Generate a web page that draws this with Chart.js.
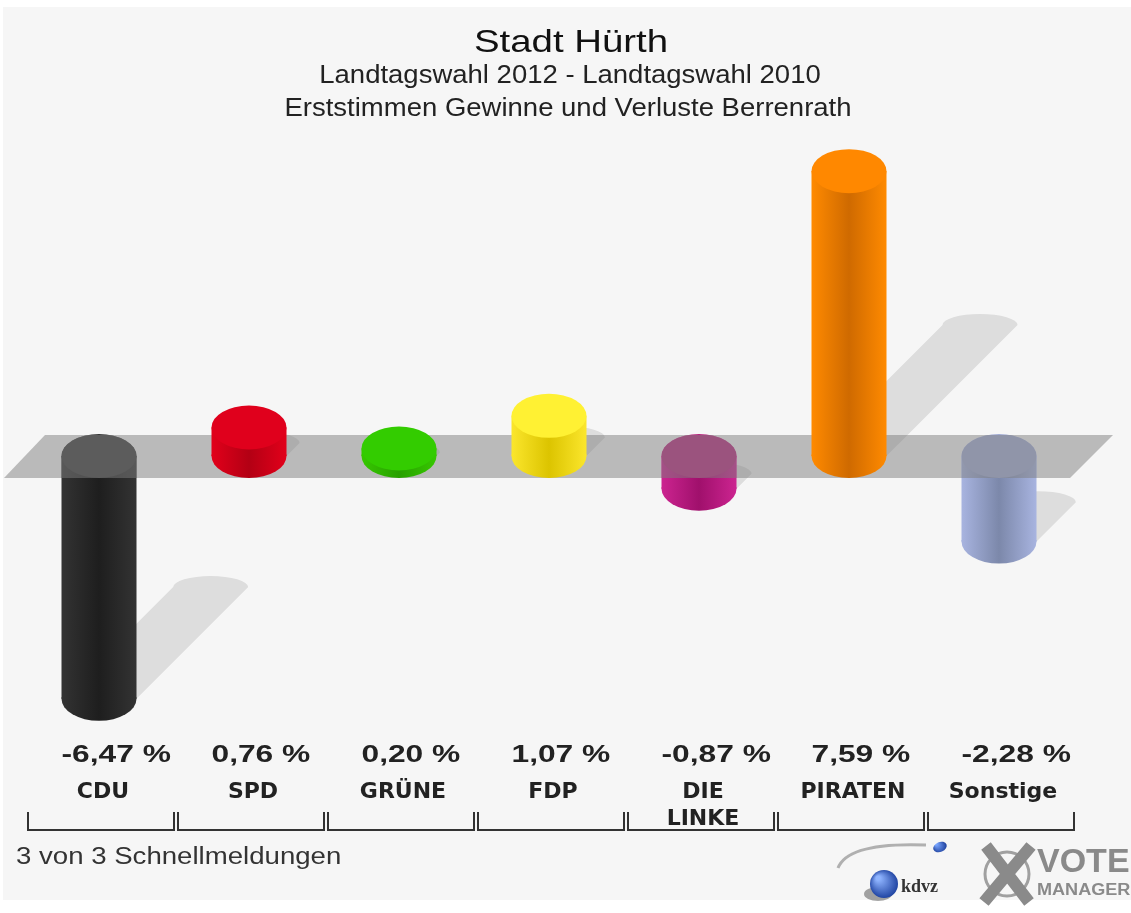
<!DOCTYPE html>
<html lang="de">
<head>
<meta charset="utf-8">
<title>Stadt Hürth – Landtagswahl 2012</title>
<script src="https://cdn.jsdelivr.net/npm/chart.js@4.4.1/dist/chart.umd.min.js"></script>
<style>
  html, body { margin: 0; padding: 0; background: #fff; }
  canvas { display: block; }
</style>
</head>
<body>
<canvas id="chart" width="1131" height="913"></canvas>
<script>
// Erststimmen Gewinne und Verluste (Prozentpunkte)
const parties = ['CDU', 'SPD', 'GRÜNE', 'FDP', ['DIE', 'LINKE'], 'PIRATEN', 'Sonstige'];
const changes = [-6.47, 0.76, 0.20, 1.07, -0.87, 7.59, -2.28];
const sideColors = ['#333333', '#e2001a', '#36c800', '#fbe62c', '#cc2490', '#ff8a00', '#a8b4e0'];
const darkColors = ['#1e1e1e', '#b30014', '#28a000', '#dcc400', '#a0106c', '#cf6a00', '#7c88aa'];
const topColors = ['#3a3a3a', '#e0001c', '#33cc00', '#fff133', '#b8287f', '#ff8800', '#a2acd4'];
const titleLines = ['Stadt Hürth', 'Landtagswahl 2012 - Landtagswahl 2010', 'Erststimmen Gewinne und Verluste Berrenrath'];
const footerText = '3 von 3 Schnellmeldungen';

const valueLabels = changes.map(v => v.toFixed(2).replace('.', ',') + ' %');

const CAP_RY = 22;
const BAND_FILL = 'rgba(126,126,126,0.5)';

function sideGradient(ctx, x, w, i) {
  if (!isFinite(x) || !isFinite(w) || w <= 0) return sideColors[i];
  const g = ctx.createLinearGradient(x - w / 2, 0, x + w / 2, 0);
  g.addColorStop(0, sideColors[i]);
  g.addColorStop(0.5, darkColors[i]);
  g.addColorStop(1, sideColors[i]);
  return g;
}

function geom(chart, i) {
  const bar = chart.getDatasetMeta(0).data[i];
  const y0 = chart.scales.y.getPixelForValue(0);
  return { x: bar.x, w: bar.width, y0, yv: bar.y };
}

function bandPath(chart) {
  const ctx = chart.ctx;
  const a = chart.chartArea;
  const y0 = chart.scales.y.getPixelForValue(0);
  ctx.beginPath();
  ctx.moveTo(a.left + 21, y0 - 21);
  ctx.lineTo(a.right + 39, y0 - 21);
  ctx.lineTo(a.right - 4, y0 + 22);
  ctx.lineTo(a.left - 20, y0 + 22);
  ctx.closePath();
}

function stretchedText(ctx, text, x, y, font, sx, align, color) {
  ctx.save();
  ctx.font = font;
  ctx.fillStyle = color;
  ctx.textAlign = align;
  ctx.textBaseline = 'alphabetic';
  ctx.translate(x, y);
  ctx.scale(sx, 1);
  ctx.fillText(text, 0, 0);
  ctx.restore();
}

const cylinderPlugin = {
  id: 'cylinders',
  beforeDraw(chart) {
    const ctx = chart.ctx;
    ctx.save();
    ctx.fillStyle = '#ffffff';
    ctx.fillRect(0, 0, chart.width, chart.height);
    ctx.fillStyle = '#f6f6f6';
    ctx.fillRect(3, 7, chart.width - 3, 893);
    ctx.restore();
  },
  beforeDatasetsDraw(chart) {
    const ctx = chart.ctx;
    ctx.save();
    // Schatten
    ctx.fillStyle = 'rgba(0,0,0,0.1)';
    changes.forEach((v, i) => {
      const { x, w, y0, yv } = geom(chart, i);
      const h = Math.abs(yv - y0);
      const sy = Math.max(y0, yv);
      const d = 0.46 * h;
      ctx.beginPath();
      ctx.moveTo(x - w / 2, sy);
      ctx.lineTo(x + w / 2, sy);
      ctx.lineTo(x + w / 2 + d, sy - d);
      ctx.ellipse(x + d, sy - d, w / 2, 11, 0, 0, Math.PI, true);
      ctx.lineTo(x - w / 2, sy);
      ctx.closePath();
      ctx.fill();
    });
    // Nulllinie als Ebene
    bandPath(chart);
    ctx.fillStyle = BAND_FILL;
    ctx.fill();
    ctx.restore();
  },
  afterDatasetsDraw(chart) {
    const ctx = chart.ctx;
    ctx.save();
    changes.forEach((v, i) => {
      const { x, w, y0, yv } = geom(chart, i);
      const top = Math.min(y0, yv);
      const bot = Math.max(y0, yv);
      ctx.beginPath();
      ctx.moveTo(x - w / 2, bot - 1.5);
      ctx.lineTo(x + w / 2, bot - 1.5);
      ctx.ellipse(x, bot, w / 2, CAP_RY, 0, 0, Math.PI);
      ctx.closePath();
      ctx.fillStyle = sideGradient(ctx, x, w, i);
      ctx.fill();
      ctx.beginPath();
      ctx.ellipse(x, top, w / 2, CAP_RY, 0, 0, Math.PI * 2);
      ctx.fillStyle = topColors[i];
      ctx.fill();
      if (v < 0) {
        ctx.save();
        bandPath(chart);
        ctx.clip();
        ctx.beginPath();
        ctx.ellipse(x, y0, w / 2, CAP_RY, 0, 0, Math.PI * 2);
        ctx.rect(x - w / 2, y0, w, bot - y0);
        ctx.fillStyle = BAND_FILL;
        ctx.fill();
        ctx.restore();
      }
    });
    ctx.restore();
  },
  afterDraw(chart) {
    const ctx = chart.ctx;
    const xs = chart.scales.x;

    stretchedText(ctx, titleLines[0], 571, 52, '32px "Liberation Sans"', 1.2, 'center', '#111');
    stretchedText(ctx, titleLines[1], 570, 83, '25px "Liberation Sans"', 1.1, 'center', '#222');
    stretchedText(ctx, titleLines[2], 568, 116, '25px "Liberation Sans"', 1.1, 'center', '#222');

    changes.forEach((v, i) => {
      const { x, w } = geom(chart, i);
      stretchedText(ctx, valueLabels[i], x - w / 2, 762, 'bold 23px "Liberation Sans"', 1.38, 'left', '#222');
    });

    // Klammern unter den Kategorien
    ctx.save();
    ctx.strokeStyle = '#333';
    ctx.lineWidth = 2;
    parties.forEach((p, i) => {
      const c = xs.getPixelForValue(i);
      ctx.beginPath();
      ctx.moveTo(c - 71, 812);
      ctx.lineTo(c - 71, 830);
      ctx.lineTo(c + 75, 830);
      ctx.lineTo(c + 75, 812);
      ctx.stroke();
    });
    ctx.restore();

    stretchedText(ctx, footerText, 16, 864, '23px "Liberation Sans"', 1.2, 'left', '#333');

    // Logos
    ctx.save();
    ctx.strokeStyle = '#b0b0b0';
    ctx.lineWidth = 3;
    ctx.beginPath();
    ctx.moveTo(838, 868);
    ctx.quadraticCurveTo(848, 842, 926, 845);
    ctx.stroke();
    let g = ctx.createRadialGradient(936, 844, 1, 940, 847, 7);
    g.addColorStop(0, '#7aa6ff');
    g.addColorStop(1, '#1a3d9a');
    ctx.fillStyle = g;
    ctx.beginPath();
    ctx.ellipse(940, 847, 7, 5, -0.4, 0, Math.PI * 2);
    ctx.fill();
    ctx.fillStyle = 'rgba(0,0,0,0.35)';
    ctx.beginPath();
    ctx.ellipse(878, 894, 14, 7, 0, 0, Math.PI * 2);
    ctx.fill();
    g = ctx.createRadialGradient(878, 878, 2, 884, 884, 15);
    g.addColorStop(0, '#8fb4ff');
    g.addColorStop(1, '#1b3f9e');
    ctx.fillStyle = g;
    ctx.beginPath();
    ctx.arc(884, 884, 14, 0, Math.PI * 2);
    ctx.fill();
    ctx.restore();
    stretchedText(ctx, 'kdvz', 901, 892, 'bold 19px "Liberation Serif"', 0.95, 'left', '#333');

    ctx.save();
    ctx.strokeStyle = '#a0a0a0';
    ctx.lineWidth = 3;
    ctx.beginPath();
    ctx.arc(1007, 874, 22, 0, Math.PI * 2);
    ctx.stroke();
    ctx.strokeStyle = '#8a8a8a';
    ctx.lineWidth = 12;
    ctx.beginPath();
    ctx.moveTo(986, 846);
    ctx.lineTo(1029, 902);
    ctx.moveTo(1031, 846);
    ctx.lineTo(984, 902);
    ctx.stroke();
    ctx.restore();
    stretchedText(ctx, 'VOTE', 1037, 872, 'bold 34px "Liberation Sans"', 1.0, 'left', '#8a8a8a');
    stretchedText(ctx, 'MANAGER', 1037, 895, 'bold 16px "Liberation Sans"', 1.13, 'left', '#8a8a8a');
  }
};

new Chart(document.getElementById('chart'), {
  type: 'bar',
  data: {
    labels: parties,
    datasets: [{
      data: changes,
      backgroundColor: c => {
        const xs = c.chart.scales.x;
        if (!xs || c.dataIndex === undefined) return sideColors[0];
        const x = xs.getPixelForValue(c.dataIndex);
        const w = xs.width / parties.length * 0.5;
        return sideGradient(c.chart.ctx, x, w, c.dataIndex);
      },
      borderWidth: 0,
      barPercentage: 0.5,
      categoryPercentage: 1,
      clip: false
    }]
  },
  plugins: [cylinderPlugin],
  options: {
    responsive: false,
    devicePixelRatio: 1,
    animation: false,
    layout: { padding: { left: 24, right: 57, top: 137, bottom: 82 } },
    plugins: { legend: { display: false }, tooltip: { enabled: false }, title: { display: false } },
    scales: {
      x: {
        grid: { display: false, drawTicks: false },
        border: { display: false },
        afterFit: scale => { scale.height = 56; },
        ticks: {
          color: '#222',
          font: { family: 'DejaVu Sans', weight: 'bold', size: 22, lineHeight: 1.23 },
          padding: 4,
          labelOffset: 4,
          maxRotation: 0,
          autoSkip: false
        }
      },
      y: { display: false, min: -8.5, max: 8.5 }
    }
  }
});
</script>
</body>
</html>
